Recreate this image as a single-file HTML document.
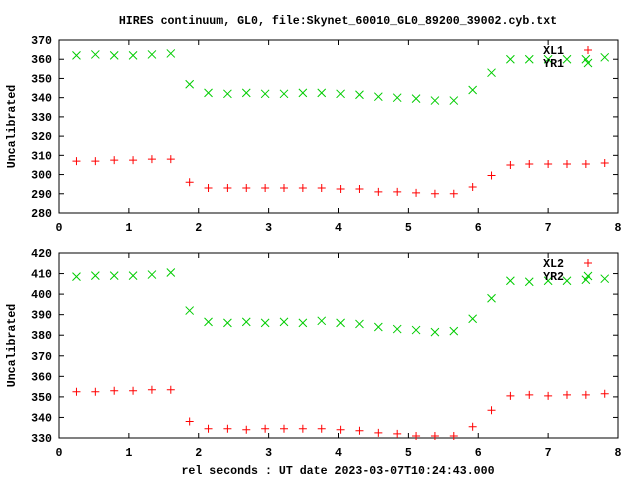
<!DOCTYPE html>
<html><head><meta charset="utf-8"><style>
body{margin:0;background:#fff}
svg text{font-family:"Liberation Mono",monospace;font-weight:bold;font-size:11.6px;fill:#000}
</style></head><body>
<svg id="chart" width="640" height="480" xmlns="http://www.w3.org/2000/svg">
<text x="338" y="24" text-anchor="middle">HIRES continuum, GL0, file:Skynet_60010_GL0_89200_39002.cyb.txt</text>
<text x="338" y="474" text-anchor="middle">rel seconds : UT date 2023-03-07T10:24:43.000</text>
<g id="plots"></g>
</svg>
<script>
const xs=[0.25,0.52,0.79,1.06,1.33,1.6,1.87,2.14,2.41,2.68,2.95,3.22,3.49,3.76,4.03,4.3,4.57,4.84,5.11,5.38,5.65,5.92,6.19,6.46,6.73,7.0,7.27,7.54,7.81];
const xl1=[307,307,307.5,307.5,308,308,296,293,293,293,293,293,293,293,292.5,292.5,291,291,290.5,290,290,293.5,299.5,305,305.5,305.5,305.5,305.5,306];
const yr1=[362,362.5,362,362,362.5,363,347,342.5,342,342.5,342,342,342.5,342.5,342,341.5,340.5,340,339.5,338.5,338.5,344,353,360,360,360,360,360,361];
const xl2=[352.5,352.5,353,353,353.5,353.5,338,334.5,334.5,334,334.5,334.5,334.5,334.5,334,333.5,332.5,332,331,331,331,335.5,343.5,350.5,351,350.5,351,351,351.5];
const yr2=[408.5,409,409,409,409.5,410.5,392,386.5,386,386.5,386,386.5,386,387,386,385.5,384,383,382.5,381.5,382,388,398,406.5,406,406.5,406.5,407,407.5];
const xTicks=[0,1,2,3,4,5,6,7,8];
const yTicks1=[280,290,300,310,320,330,340,350,360,370];
const yTicks2=[330,340,350,360,370,380,390,400,410,420];
const NS="http://www.w3.org/2000/svg";
const root=document.getElementById('plots');
function mk(tag,attrs,parent){const e=document.createElementNS(NS,tag);for(const k in attrs)e.setAttribute(k,attrs[k]);parent.appendChild(e);return e;}
const L=59,R=618;
function panel(id,top,bot,yMin,yMax,yTicks,s1,s2,n1,n2){
  const g=mk('g',{},root);
  
  
  const X=v=>L+(v-0)/(8-0)*(R-L);
  const Y=v=>bot-(v-yMin)/(yMax-yMin)*(bot-top);
  const fr=mk('rect',{x:L,y:top,width:R-L,height:bot-top,fill:'none',stroke:'#000','stroke-width':1},g);
  
  
  xTicks.forEach(t=>{const x=X(t);
    mk('line',{x1:x,y1:bot,x2:x,y2:bot-5,stroke:'#000'},g);
    mk('line',{x1:x,y1:top,x2:x,y2:top+5,stroke:'#000'},g);
    const tx=mk('text',{x:x,y:bot+18,'text-anchor':'middle'},g);tx.textContent=t;
    
    
  });
  yTicks.forEach(t=>{const y=Y(t);
    mk('line',{x1:L,y1:y,x2:L+5,y2:y,stroke:'#000'},g);
    mk('line',{x1:R,y1:y,x2:R-5,y2:y,stroke:'#000'},g);
    const tx=mk('text',{x:L-7,y:y+4,'text-anchor':'end'},g);tx.textContent=t;
    
    
  });
  const yl=mk('text',{x:0,y:0,'text-anchor':'middle',transform:`translate(15,${(top+bot)/2}) rotate(-90)`},g);
  yl.textContent='Uncalibrated';
  
  
  function plus(x,y){const p=mk('path',{d:`M${x-4},${y}H${x+4}M${x},${y-4}V${y+4}`,stroke:'#f00','stroke-width':1,fill:'none'},g);
    
    }
  function cross(x,y){const p=mk('path',{d:`M${x-4},${y-4}L${x+4},${y+4}M${x-4},${y+4}L${x+4},${y-4}`,stroke:'#0c0','stroke-width':1,fill:'none'},g);
    
    }
  xs.forEach((v,i)=>{cross(X(v),Y(s2[i]));});
  xs.forEach((v,i)=>{plus(X(v),Y(s1[i]));});
  const t1=mk('text',{x:564,y:top+14,'text-anchor':'end'},g);t1.textContent=n1;
  
  
  const t2=mk('text',{x:564,y:top+27,'text-anchor':'end'},g);t2.textContent=n2;
  
  
  plus(588,top+10);cross(588,top+23);
}
panel('top-panel',40,213,280,370,yTicks1,xl1,yr1,'XL1','YR1');
panel('bottom-panel',253,438,330,420,yTicks2,xl2,yr2,'XL2','YR2');
</script>
</body></html>
